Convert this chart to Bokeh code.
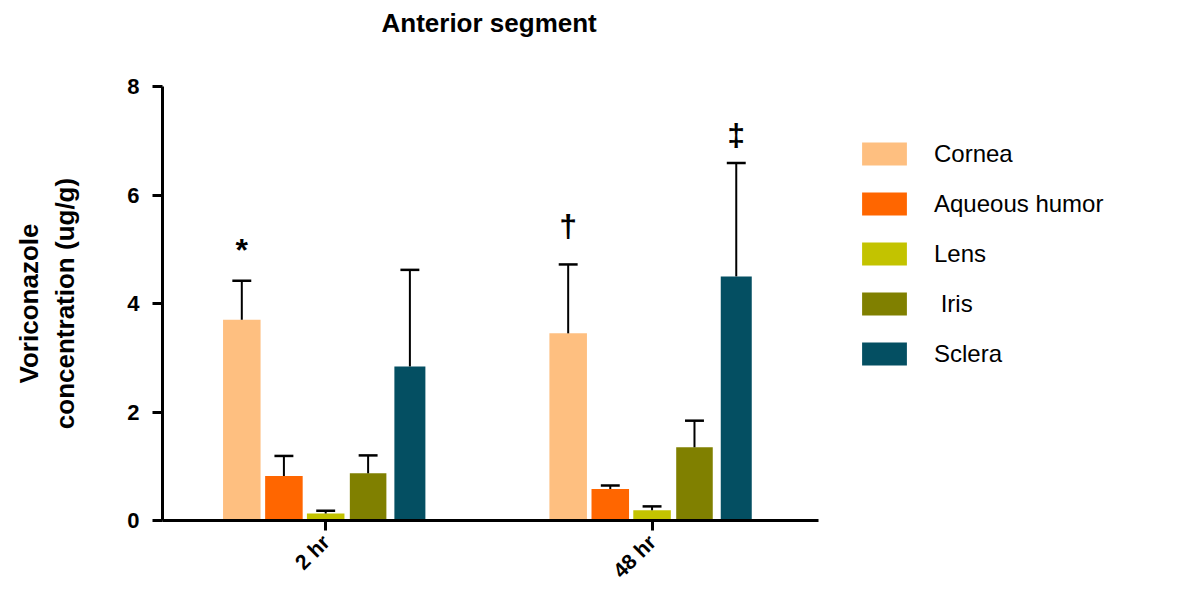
import math
from bokeh.plotting import figure
from bokeh.models import Range1d, FixedTicker, Legend, LegendItem
from bokeh.core.properties import value
from bokeh.embed import file_html
from bokeh.resources import INLINE

# ---- data ----
categories = ["2 hr", "48 hr"]
series_names = ["Cornea", "Aqueous humor", "Lens", " Iris", "Sclera"]

cornea_mean = [3.70, 3.45]
cornea_sd = [0.72, 1.27]
aqueous_mean = [0.82, 0.58]
aqueous_sd = [0.37, 0.065]
lens_mean = [0.13, 0.19]
lens_sd = [0.05, 0.07]
iris_mean = [0.87, 1.35]
iris_sd = [0.33, 0.49]
sclera_mean = [2.84, 4.50]
sclera_sd = [1.78, 2.09]

y_ticks = [0, 2, 4, 6, 8]
title_text = "Anterior segment"
y_label_text = "Voriconazole\nconcentration (ug/g)"

# significance marks: (category index, series index, symbol, y value)
sig_category = [0, 1, 1]
sig_series = [0, 0, 4]
sig_text = ["*", "\u2020", "\u2021"]
sig_y = [4.98, 5.42, 7.10]

means = [cornea_mean, aqueous_mean, lens_mean, iris_mean, sclera_mean]
sds = [cornea_sd, aqueous_sd, lens_sd, iris_sd, sclera_sd]

# ---- styles / layout ----
colors = ["#FEBF80", "#FF6600", "#C3C300", "#808000", "#044F62"]
offsets = [-0.257, -0.128, 0.0, 0.13, 0.258]
widths = [0.115, 0.115, 0.115, 0.112, 0.095]
cap_half = 0.029
FONT = "Liberation Sans"

X_AXIS_END = 2.01          # extent of the drawn x axis
W, H = 1192, 616
LEFT, BOTTOM, TOP = 162, 96, 86
AXIS_PX_W = 656            # pixel length of x axis
frame_w = W - LEFT
x_end = X_AXIS_END * frame_w / AXIS_PX_W

p = figure(width=W, height=H, output_backend="svg", toolbar_location=None,
           x_range=Range1d(0, x_end), y_range=Range1d(0, 8),
           min_border_left=LEFT, min_border_right=0,
           min_border_top=TOP, min_border_bottom=BOTTOM)

p.outline_line_color = None
p.xgrid.grid_line_color = None
p.ygrid.grid_line_color = None
p.background_fill_color = "white"
p.border_fill_color = "white"

renderers = []
for j, name in enumerate(series_names):
    xs = [i + 0.5 + offsets[j] for i in range(len(categories))]
    tops = means[j]
    r = p.vbar(x=xs, top=tops, bottom=0, width=widths[j],
               fill_color=colors[j], line_color=None)
    renderers.append(r)
    ups = [m + s for m, s in zip(tops, sds[j])]
    p.segment(x0=xs, y0=tops, x1=xs, y1=ups, line_color="black", line_width=2)
    p.segment(x0=[x - cap_half for x in xs], y0=ups,
              x1=[x + cap_half for x in xs], y1=ups,
              line_color="black", line_width=2.5)

sx = [c + 0.5 + offsets[s] for c, s in zip(sig_category, sig_series)]
p.text(x=sx, y=sig_y, text=sig_text, text_align="center",
       text_baseline="alphabetic", text_font=value(FONT),
       text_font_size="32px", text_font_style="bold", text_color="black")

# ---- axes ----
xa = p.xaxis[0]
xa.bounds = (0, X_AXIS_END)
xa.ticker = FixedTicker(ticks=[i + 0.5 for i in range(len(categories))])
xa.major_label_overrides = {i + 0.5: c for i, c in enumerate(categories)}
xa.major_label_orientation = math.pi / 4
xa.major_label_text_font = FONT
xa.major_label_text_font_style = "bold"
xa.major_label_text_font_size = "21px"
xa.major_label_text_color = "black"
xa.major_label_standoff = 8
xa.axis_line_width = 3
xa.axis_line_color = "black"
xa.major_tick_line_width = 3
xa.major_tick_line_color = "black"
xa.major_tick_out = 10
xa.major_tick_in = 0
xa.minor_tick_line_color = None

ya = p.yaxis[0]
ya.ticker = FixedTicker(ticks=y_ticks)
ya.major_label_text_font = FONT
ya.major_label_text_font_style = "bold"
ya.major_label_text_font_size = "22px"
ya.major_label_text_color = "black"
ya.major_label_standoff = 13
ya.axis_line_width = 3
ya.axis_line_color = "black"
ya.major_tick_line_width = 3
ya.major_tick_line_color = "black"
ya.major_tick_out = 10
ya.major_tick_in = 0
ya.minor_tick_line_color = None
ya.axis_label = y_label_text
ya.axis_label_text_font = FONT
ya.axis_label_text_font_style = "bold"
ya.axis_label_text_font_size = "26px"
ya.axis_label_text_color = "black"
ya.axis_label_standoff = 44

# ---- title ----
p.title.text = title_text
p.title.align = "left"
p.title.offset = 219
p.title.text_font = FONT
p.title.text_font_style = "bold"
p.title.text_font_size = "26px"
p.title.text_color = "black"
p.title.standoff = 0
p.title.padding = dict(top=0, right=0, bottom=49, left=0)

# ---- legend ----
items = [LegendItem(label=n, renderers=[r]) for n, r in zip(series_names, renderers)]
legend = Legend(items=items, location=(694, 152), orientation="vertical",
                glyph_width=56, glyph_height=29, label_standoff=22, spacing=21,
                padding=0, margin=0, border_line_color=None,
                background_fill_alpha=0,
                label_text_font=FONT, label_text_font_size="24px",
                label_text_color="black")
p.add_layout(legend, "center")

open("out.html", "w").write(file_html(p, INLINE))
